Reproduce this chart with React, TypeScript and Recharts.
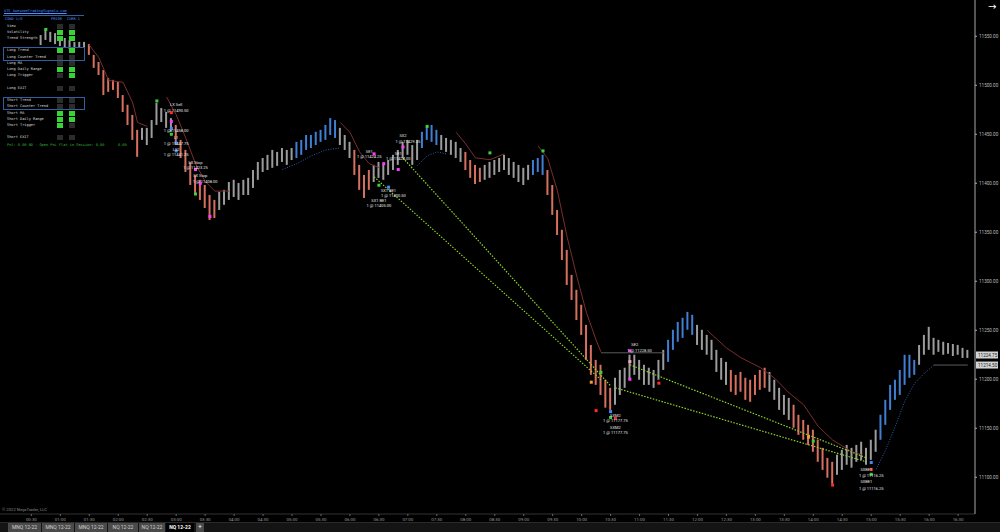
import React from 'react';
import {
  ComposedChart, Bar, Line, XAxis, YAxis, Cell, ReferenceLine, ReferenceDot,
} from 'recharts';

// 5-minute slots from 00:00; bars start at slot 8 (00:40)
const SLOT_COUNT = 202;
const FIRST_BAR = 8;

const highs = [
  11551.25, 11557.5, 11554.5, 11553.25, 11550.25, 11548.25, 11546.25, 11544.25, 11544.25, 11544.25,
  11542, 11531, 11523.75, 11515.5, 11507.5, 11505.5, 11503.25, 11490, 11480, 11469.75,
  11454.5, 11456.5, 11456.5, 11464.5, 11482, 11476.75, 11472.75, 11466.5, 11459.5, 11444.25,
  11434, 11421.75, 11408.5, 11403.5, 11398.25, 11388, 11383, 11391.25, 11393.25, 11401.25,
  11403.5, 11400.25, 11403.5, 11405.5, 11413.5, 11421.75, 11425.75, 11429, 11434, 11432,
  11436, 11434, 11436, 11442.25, 11444.25, 11449.25, 11449.25, 11452.5, 11454.5, 11459.5,
  11466.5, 11464.5, 11456.5, 11449.25, 11442.25, 11434, 11418.75, 11408.5, 11413.5, 11418.75,
  11421.75, 11418.75, 11423.75, 11429, 11434, 11442.25, 11444.25, 11439, 11444.25, 11452.5,
  11458.5, 11459.5, 11454.5, 11449.25, 11446.25, 11444.25, 11442.25, 11436, 11432, 11423.75,
  11418.75, 11415.75, 11418.75, 11421.75, 11423.75, 11425.75, 11429, 11425.75, 11421.75, 11418.75,
  11415.75, 11418.75, 11423.75, 11425.75, 11429, 11413.5, 11398.25, 11372.75, 11352.5, 11332,
  11306.5, 11291.25, 11276, 11255.5, 11235, 11219.75, 11214.75, 11199.5, 11191.25, 11201.5,
  11209.5, 11211.75, 11225, 11225, 11219.75, 11214.75, 11211.75, 11209.5, 11219.75, 11230,
  11240.25, 11250.5, 11258.5, 11262.75, 11268.75, 11265.75, 11255.5, 11250.5, 11245.25, 11240.25,
  11230, 11221.75, 11217.75, 11209.5, 11204.5, 11207.5, 11201.5, 11199.5, 11204.5, 11209.5,
  11211.75, 11207.5, 11199.5, 11191.25, 11184, 11181, 11174, 11163.75, 11158.5, 11153.5,
  11148.5, 11138.25, 11130, 11119.75, 11115.75, 11123, 11128, 11133, 11130, 11133,
  11136.25, 11130, 11138.25, 11148.5, 11163.75, 11179, 11194.25, 11199.5, 11209.5, 11225,
  11225, 11219.75, 11235, 11245.25, 11253.5, 11242.25, 11240.25, 11238.25, 11237, 11236,
  11235, 11232, 11230,
];

const lows = [
  11541, 11546.25, 11544.25, 11542, 11540, 11538, 11537, 11538, 11539, 11538,
  11531, 11517.75, 11510.5, 11490, 11493.25, 11495.25, 11487, 11472.75, 11459.5, 11444.25,
  11427, 11444.25, 11439, 11446.25, 11459.5, 11462.5, 11456.5, 11452.5, 11439, 11425.75,
  11411.5, 11398.25, 11388, 11383, 11374.75, 11362.5, 11364.5, 11372.75, 11378, 11383,
  11386, 11383, 11388, 11388, 11395.25, 11403.5, 11411.5, 11413.5, 11415.75, 11417.75,
  11421.75, 11418.75, 11423.75, 11425.75, 11429, 11434, 11436, 11439, 11442.25, 11444.25,
  11449.25, 11446.25, 11439, 11434, 11425.75, 11408.5, 11393.25, 11385, 11393.25, 11401.25,
  11405.5, 11403.5, 11408.5, 11413.5, 11418.75, 11425.75, 11429, 11418.75, 11423.75, 11436,
  11444.25, 11442.25, 11439, 11434, 11432, 11429, 11425.75, 11421.75, 11413.5, 11405.5,
  11399.25, 11401.25, 11403.5, 11405.5, 11408.5, 11411.5, 11413.5, 11408.5, 11405.5, 11401.25,
  11398.25, 11403.5, 11408.5, 11411.5, 11408.5, 11388, 11367.75, 11347.25, 11321.75, 11296.25,
  11281, 11260.5, 11245.25, 11219.75, 11204.5, 11194.25, 11184, 11171, 11168.75, 11174,
  11184, 11191.25, 11199.5, 11204.5, 11199.5, 11194.25, 11194.25, 11191.25, 11199.5, 11209.5,
  11217.75, 11230, 11238.25, 11242.25, 11250.5, 11245.25, 11235, 11230, 11225, 11219.75,
  11207.5, 11199.5, 11194.25, 11187.25, 11184, 11187.25, 11179, 11177, 11184, 11189.25,
  11191.25, 11187.25, 11179, 11168.75, 11163.75, 11158.5, 11150.5, 11143.25, 11138.25, 11133,
  11126, 11115.75, 11107.5, 11099.5, 11093.25, 11102.5, 11107.5, 11112.75, 11109.75, 11115.75,
  11117.75, 11112.75, 11117.75, 11126, 11138.25, 11153.5, 11168.75, 11179, 11184, 11194.25,
  11201.5, 11204.5, 11214.75, 11225, 11230, 11225, 11228, 11225, 11226, 11223.75,
  11225, 11221.75, 11221.75,
];

// bar colouring runs: g = neutral, r = down trend, b = up trend
const toneRuns: [string, number][] = [
  ['g', 10], ['r', 11], ['g', 7], ['r', 9], ['g', 16], ['b', 9], ['g', 3], ['r', 4],
  ['g', 10], ['b', 4], ['g', 5], ['r', 4], ['g', 10], ['b', 3], ['r', 14], ['g', 11],
  ['b', 6], ['g', 7], ['r', 8], ['g', 5], ['r', 9], ['g', 9], ['b', 8], ['g', 11],
];

const timeTicks = [
  '00:30', '01:00', '01:30', '02:00', '02:30', '03:00', '03:30', '04:00', '04:30', '05:00', '05:30',
  '06:00', '06:30', '07:00', '07:30', '08:00', '08:30', '09:00', '09:30', '10:00', '10:30', '11:00',
  '11:30', '12:00', '12:30', '13:00', '13:30', '14:00', '14:30', '15:00', '15:30', '16:00', '16:30',
];
const priceTicks = [11100, 11150, 11200, 11250, 11300, 11350, 11400, 11450, 11500, 11550];

const lastPrice = 11224.75;
const stopPrice = 11214.5;

// trailing stop / trend lines: [slot, price]
const trailSegments: { kind: string; pts: [number, number][] }[] = [
  { kind: 'dn', pts: [[18, 11541], [20, 11528], [22, 11505], [25, 11503], [27, 11482], [28, 11462], [30, 11458]] },
  { kind: 'dn', pts: [[34, 11488], [36, 11470], [38, 11446], [40, 11420], [42, 11402], [44, 11392], [47, 11392]] },
  { kind: 'up', pts: [[58, 11414], [61, 11420], [64, 11428], [67, 11434], [70, 11436]] },
  { kind: 'dn', pts: [[70, 11462], [72, 11452], [74, 11432], [76, 11420], [78, 11416]] },
  { kind: 'up', pts: [[86, 11418], [88, 11428], [90, 11432], [92, 11430]] },
  { kind: 'dn', pts: [[94, 11452], [96, 11440], [98, 11426], [101, 11424], [104, 11430]] },
  { kind: 'dn', pts: [[111, 11438], [113, 11425], [115, 11392], [117, 11345], [119, 11305], [121, 11268], [123, 11240], [124, 11228]] },
  { kind: 'flat', pts: [[124, 11227], [137, 11227]] },
  { kind: 'dn', pts: [[146, 11250], [150, 11232], [153, 11222], [157, 11212], [160, 11201], [163, 11186], [166, 11174], [169, 11152], [172, 11138], [176, 11126], [178, 11123]] },
  { kind: 'up', pts: [[181, 11108], [183, 11128], [185, 11152], [187, 11178], [189, 11196], [191, 11206], [193, 11214.5]] },
  { kind: 'flat', pts: [[193, 11214.5], [200, 11214.5]] },
];

const trades = [
  { from: '06:25', entry: 11406.5, to: '10:20', exit: 11199.5 },
  { from: '06:55', entry: 11425.75, to: '10:30', exit: 11193.25 },
  { from: '10:50', entry: 11214.75, to: '14:55', exit: 11119.75 },
  { from: '10:35', entry: 11191.25, to: '14:55', exit: 11115.75 },
];

const markers = [
  { t: '00:45', p: 11557, c: 'green' }, { t: '02:40', p: 11484, c: 'green' },
  { t: '02:55', p: 11472, c: 'red' }, { t: '02:55', p: 11463, c: 'magenta' },
  { t: '02:55', p: 11456, c: 'blue' }, { t: '02:55', p: 11450, c: 'green' },
  { t: '03:00', p: 11441, c: 'blue' }, { t: '03:00', p: 11433, c: 'blue' },
  { t: '03:20', p: 11414, c: 'magenta' }, { t: '03:25', p: 11400, c: 'magenta' },
  { t: '03:20', p: 11389, c: 'green' }, { t: '03:35', p: 11366, c: 'magenta' },
  { t: '06:25', p: 11430, c: 'magenta' }, { t: '06:35', p: 11420, c: 'magenta' },
  { t: '06:50', p: 11414, c: 'magenta' }, { t: '06:30', p: 11398, c: 'green' },
  { t: '06:40', p: 11396, c: 'blue' }, { t: '06:55', p: 11437, c: 'magenta' },
  { t: '07:20', p: 11458, c: 'green' }, { t: '08:25', p: 11431, c: 'green' },
  { t: '09:20', p: 11433, c: 'green' }, { t: '10:10', p: 11197, c: 'orange' },
  { t: '10:20', p: 11207, c: 'green' }, { t: '10:15', p: 11168, c: 'red' },
  { t: '10:30', p: 11167, c: 'blue' }, { t: '10:30', p: 11161, c: 'green' },
  { t: '10:35', p: 11160, c: 'red' }, { t: '10:50', p: 11229, c: 'magenta' },
  { t: '10:50', p: 11218, c: 'pink' }, { t: '10:50', p: 11200, c: 'magenta' },
  { t: '11:20', p: 11196, c: 'red' }, { t: '13:55', p: 11141, c: 'orange' },
  { t: '14:00', p: 11137, c: 'green' }, { t: '14:20', p: 11092, c: 'red' },
  { t: '15:00', p: 11115, c: 'blue' }, { t: '15:00', p: 11108, c: 'red' },
  { t: '15:00', p: 11103, c: 'green' },
];

const notes = [
  { t: '03:00', p: 11480, text: 'LX Sell' }, { t: '03:00', p: 11474, text: '1 @ 11490.50' },
  { t: '03:00', p: 11454, text: '1 @ 11458.00' }, { t: '03:00', p: 11447, text: 'L1' },
  { t: '03:00', p: 11441, text: '1 @ 11447.75' }, { t: '03:00', p: 11434, text: 'LS2' },
  { t: '03:00', p: 11429, text: '1 @ 11441.25' }, { t: '03:20', p: 11421, text: 'LX Stop' },
  { t: '03:20', p: 11416, text: '1 @ 11423.25' }, { t: '03:25', p: 11407.5, text: 'LX Stop' },
  { t: '03:30', p: 11402, text: '1 @ 11408.00' },
  { t: '06:55', p: 11449, text: 'SX2' }, { t: '07:00', p: 11443, text: '1 @ 11429.25' },
  { t: '06:20', p: 11432, text: 'SE1' }, { t: '06:20', p: 11427, text: '1 @ 11424.25' },
  { t: '06:50', p: 11430, text: 'SE1' }, { t: '06:50', p: 11425, text: '1 @ 11424.00' },
  { t: '06:40', p: 11393, text: 'SX1 BE1' }, { t: '06:45', p: 11388, text: '1 @ 11400.50' },
  { t: '06:30', p: 11382, text: 'SX1 BE1' }, { t: '06:30', p: 11377, text: '1 @ 11405.00' },
  { t: '10:55', p: 11235, text: 'SE2' }, { t: '11:00', p: 11229, text: '1 @ 11228.50' },
  { t: '10:35', p: 11163, text: 'SXM2' }, { t: '10:35', p: 11158, text: '1 @ 11177.75' },
  { t: '10:35', p: 11150.5, text: 'SXM2' }, { t: '10:35', p: 11145.5, text: '1 @ 11177.75' },
  { t: '14:55', p: 11107.5, text: 'SXBE1' }, { t: '15:00', p: 11101.5, text: '1 @ 11116.25' },
  { t: '14:55', p: 11095.5, text: 'SXBE1' }, { t: '15:00', p: 11089, text: '1 @ 11116.25' },
];

// status panel rows (null = blank row): [label, prior, current]
const panelRows: ([string, boolean, boolean] | null)[] = [
  ['View', false, false], ['Volatility', true, true], ['Trend Strength', true, true], null,
  ['Long Trend', true, true], ['Long Counter Trend', false, false], ['Long MA', false, false],
  ['Long Daily Range', true, true], ['Long Trigger', false, true], null,
  ['Long EXIT', false, false], null,
  ['Short Trend', false, false], ['Short Counter Trend', false, false], ['Short MA', true, true],
  ['Short Daily Range', true, true], ['Short Trigger', true, false], null,
  ['Short EXIT', false, false],
];

const tabs = ['MNQ 12-22', 'MNQ 12-22', 'MNQ 12-22', 'NQ 12-22', 'NQ 12-22', 'NQ 12-22'];

const TONE_COLORS: Record<string, string> = { g: '#9c9c9c', r: '#d8705f', b: '#3f7fd4' };
const MARK_COLORS: Record<string, string> = {
  green: '#3bd13b', red: '#ff2a2a', magenta: '#ff3cff', blue: '#3c8cff', pink: '#ff9acb', orange: '#f0a030',
};
const TRAIL_STYLE: Record<string, { stroke: string; dash?: string }> = {
  dn: { stroke: '#7a2e2e' },
  up: { stroke: '#2f5fae', dash: '1 1.5' },
  flat: { stroke: '#5a5a5a' },
};

const tones: string[] = [];
toneRuns.forEach(([c, n]) => { for (let k = 0; k < n; k++) tones.push(c); });

const pad = (n: number) => String(n).padStart(2, '0');
const data: any[] = [];
for (let k = 0; k < SLOT_COUNT; k++) {
  const m = k * 5;
  const row: any = { t: `${pad(Math.floor(m / 60))}:${pad(m % 60)}` };
  const b = k - FIRST_BAR;
  if (b >= 0 && b < highs.length) {
    row.range = [lows[b], highs[b]];
    row.tone = tones[b];
  }
  data.push(row);
}
trailSegments.forEach((seg, si) => {
  seg.pts.forEach(([k, p]) => { data[k]['s' + si] = p; });
});

const TimeTick = ({ x, y, payload }: any) => (
  <text x={x} y={y + 3.2} textAnchor="middle" fontSize={4.4} fill="#9c9c9c" fontFamily="Roboto, sans-serif">
    {payload.value}
  </text>
);

const PriceTick = ({ x, y, payload }: any) => (
  <text x={x} y={y + 1.6} textAnchor="start" fontSize={4.6} fill="#bdbdbd" fontFamily="Roboto, sans-serif">
    {Number(payload.value).toFixed(2)}
  </text>
);

const PriceFlag = ({ viewBox, text }: any) => {
  if (!viewBox) return null;
  const x = viewBox.x + viewBox.width + 1;
  const y = viewBox.y;
  return (
    <g>
      <rect x={x} y={y - 3.5} width={22} height={7} fill="#d4d4d4" />
      <text x={x + 2} y={y + 1.7} fontSize={4.6} fill="#222" fontFamily="Roboto, sans-serif">{text}</text>
    </g>
  );
};

const Panel = () => {
  const top = 26;
  const pitch = 6.22;
  const rowY = (k: number) => top + k * pitch;
  const txt: React.CSSProperties = {
    position: 'absolute', fontSize: 3.6, lineHeight: '5px', color: '#d8d8d8',
    fontFamily: '"DejaVu Sans Mono", monospace', whiteSpace: 'nowrap',
  };
  const sq = (on: boolean, left: number, y: number) => (
    <div style={{ position: 'absolute', left, top: y - 2.5, width: 6, height: 5, background: on ? '#37d437' : '#2c2c2c' }} />
  );
  return (
    <div style={{ position: 'absolute', left: 0, top: 0, width: 200, height: 160, pointerEvents: 'none' }}>
      <div style={{ ...txt, left: 4, top: 8.5, color: '#4d8fff', textDecoration: 'underline' }}>ATS AwesomeTradingSignals.com</div>
      <div style={{ position: 'absolute', left: 3, top: 15, width: 81, height: 1, background: '#2f5f9f' }} />
      <div style={{ ...txt, left: 5, top: 17, color: '#4d8fff' }}>COND 1/0</div>
      <div style={{ ...txt, left: 51, top: 17, color: '#4d8fff' }}>PRIOR</div>
      <div style={{ ...txt, left: 67, top: 17, color: '#4d8fff' }}>CURR-1</div>
      {panelRows.map((r, k) => r && (
        <React.Fragment key={k}>
          <div style={{ ...txt, left: 7, top: rowY(k) - 2.5 }}>{r[0]}</div>
          {sq(r[1], 57, rowY(k))}
          {sq(r[2], 69, rowY(k))}
        </React.Fragment>
      ))}
      <div style={{ position: 'absolute', left: 3, top: rowY(4) - 3.5, width: 82, height: rowY(5) - rowY(4) + 7, border: '1px solid #2f5f9f', boxSizing: 'border-box' }} />
      <div style={{ position: 'absolute', left: 3, top: rowY(12) - 3.5, width: 82, height: rowY(13) - rowY(12) + 7, border: '1px solid #2f5f9f', boxSizing: 'border-box' }} />
      <div style={{ ...txt, left: 7, top: 143, color: '#2fb82f' }}>Pnl: 0.00  ND - Open PnL Flat  in Session: 0.00</div>
      <div style={{ ...txt, left: 118, top: 143, color: '#2fb82f' }}>0.00</div>
    </div>
  );
};

export default function App() {
  return (
    <div style={{ position: 'fixed', left: 0, top: 0, width: 1000, height: 532, background: '#000', overflow: 'hidden' }}>
      <ComposedChart width={1000} height={522} data={data} margin={{ top: 0, right: 0, left: 0, bottom: 0 }}>
        <XAxis
          dataKey="t"
          ticks={timeTicks}
          interval={0}
          height={8}
          tick={<TimeTick />}
          tickSize={2}
          tickLine={{ stroke: '#666' }}
          axisLine={{ stroke: '#333' }}
        />
        <YAxis
          orientation="right"
          width={25}
          domain={[11062.5, 11587]}
          allowDataOverflow
          ticks={priceTicks}
          tick={<PriceTick />}
          tickSize={2}
          tickLine={{ stroke: '#aaa' }}
          axisLine={{ stroke: '#a8a8a8' }}
        />
        {trailSegments.map((seg, si) => (
          <Line
            key={si}
            dataKey={'s' + si}
            connectNulls
            dot={false}
            activeDot={false}
            stroke={TRAIL_STYLE[seg.kind].stroke}
            strokeDasharray={TRAIL_STYLE[seg.kind].dash}
            strokeWidth={1}
            isAnimationActive={false}
          />
        ))}
        <Bar dataKey="range" barSize={2} isAnimationActive={false}>
          {data.map((d, k) => (
            <Cell key={k} fill={TONE_COLORS[d.tone] || '#9c9c9c'} />
          ))}
        </Bar>
        {trades.map((tr, k) => (
          <ReferenceLine
            key={'tr' + k}
            segment={[{ x: tr.from, y: tr.entry }, { x: tr.to, y: tr.exit }]}
            stroke="#8fd62a"
            strokeWidth={1.2}
            strokeDasharray="1.5 1.5"
          />
        ))}
        {markers.map((m, k) => (
          <ReferenceDot
            key={'m' + k}
            x={m.t}
            y={m.p}
            r={2}
            shape={(p: any) => (
              <rect x={p.cx - 1.5} y={p.cy - 1.5} width={3} height={3} fill={MARK_COLORS[m.c]} />
            )}
          />
        ))}
        {notes.map((n, k) => (
          <ReferenceDot
            key={'n' + k}
            x={n.t}
            y={n.p}
            r={1}
            shape={(p: any) => (
              <text x={p.cx} y={p.cy + 1.5} textAnchor="middle" fontSize={4} fill="#e8e8e8" fontFamily="Roboto, sans-serif">
                {n.text}
              </text>
            )}
          />
        ))}
        <ReferenceLine y={lastPrice} stroke="none" label={<PriceFlag text={lastPrice.toFixed(2)} />} />
        <ReferenceLine y={stopPrice} stroke="none" label={<PriceFlag text={stopPrice.toFixed(2)} />} />
      </ComposedChart>

      <Panel />

      <div style={{ position: 'absolute', left: 988, top: 1, color: '#fff', fontSize: 10, fontFamily: 'DejaVu Sans, sans-serif' }}>→</div>
      <div style={{ position: 'absolute', left: 2, top: 507, color: '#8a8a8a', fontSize: 4.2, fontFamily: 'Roboto, sans-serif' }}>© 2022 NinjaTrader, LLC</div>

      <div style={{ position: 'absolute', left: 0, top: 522, width: 1000, height: 10, background: '#141414', borderTop: '1px solid #2a2a2a' }}>
        {tabs.map((tb, k) => {
          const active = k === tabs.length - 1;
          return (
            <div
              key={k}
              style={{
                position: 'absolute', left: [8, 42, 75, 108, 139, 166][k], top: 0,
                width: [33, 32, 32, 30, 26, 28][k], height: 9,
                background: active ? '#000' : '#4a4a4a', color: active ? '#fff' : '#d0d0d0',
                fontWeight: active ? 700 : 400, fontSize: 5, lineHeight: '9px', textAlign: 'center',
                fontFamily: 'Roboto, sans-serif',
              }}
            >
              {tb}
            </div>
          );
        })}
        <div style={{ position: 'absolute', left: 196, top: 0, width: 8, height: 9, background: '#4a4a4a', color: '#eee', fontSize: 7, lineHeight: '9px', textAlign: 'center', fontFamily: 'Roboto, sans-serif' }}>+</div>
      </div>
    </div>
  );
}
